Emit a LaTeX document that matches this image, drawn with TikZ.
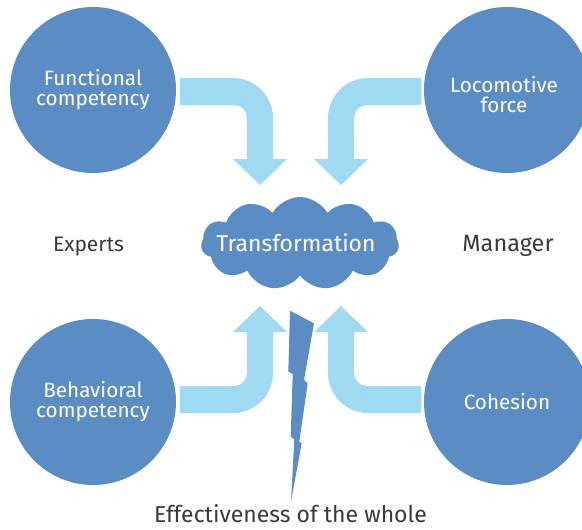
\documentclass[tikz,border=0pt]{standalone}
\usepackage{fontspec}
\setmainfont{Fira Sans}
\usetikzlibrary{shapes.symbols}
\definecolor{circblue}{RGB}{91,141,196}
\definecolor{arrblue}{RGB}{160,217,242}
\definecolor{txtgray}{RGB}{58,58,58}
\newcommand\myBendArrow{%
  \fill[arrblue] (-120.5,-167.5) -- (-67.5,-167.5)
    .. controls (-45.4,-167.5) and (-27.5,-149.6) .. (-27.5,-127.5)
    -- (-27.5,-86.5) -- (-13.5,-86.5) -- (-40.5,-60.5) -- (-67.5,-86.5)
    -- (-53.5,-86.5) -- (-53.5,-127.5)
    .. controls (-53.5,-134.7) and (-59.3,-140.5) .. (-66.5,-140.5)
    -- (-120.5,-140.5) -- cycle;}
\tikzset{
  bigcircle/.style={circle, fill=circblue, minimum size=166pt, inner sep=0pt,
    text=white, align=center, font=\fontsize{20.7}{20}\selectfont},
  circtext/.style={text=white, align=center, inner sep=0pt, font=\fontsize{20.7}{20}\selectfont},
  sidetext/.style={anchor=base, text=txtgray, inner sep=0pt},
}
\begin{document}
\begin{tikzpicture}[x=1pt,y=-1pt]
\useasboundingbox (0,0) rectangle (582,530);
% bent arrows
\begin{scope}[shift={(300.5,245.5)}]\myBendArrow\end{scope}
\begin{scope}[shift={(300.5,245.5)},xscale=-1]\myBendArrow\end{scope}
\begin{scope}[shift={(300.5,245.5)},yscale=-1]\myBendArrow\end{scope}
\begin{scope}[shift={(300.5,245.5)},xscale=-1,yscale=-1]\myBendArrow\end{scope}
% circles
\node[bigcircle] (func) at (93,90) {Functional\\competency};
\node[bigcircle] (loco) at (507,90) {};
\node[circtext] (locotext) at (504,95) {Locomotive\\force};
\node[bigcircle] (beh) at (93,402) {Behavioral\\competency};
\node[bigcircle] (coh) at (507,402) {Cohesion};
% cloud
\node[cloud, cloud puffs=11, cloud puff arc=120, fill=circblue,
  minimum width=198pt, minimum height=93pt, inner sep=0pt] (cloud) at (300,243.5) {};
\node[anchor=base, text=white, font=\fontsize{22.9}{24}\selectfont] (trans) at (296,251.7) {Transformation};
% lightning
\fill[circblue] (290,310.7) -- (314,323.3) -- (304,380) -- (307.7,383.3)
  -- (299.3,441.7) -- (301.7,443.3) -- (291,501.7) -- (294.3,439.3)
  -- (290.7,436.7) -- (292.7,374) -- (288.3,371.7) -- cycle;
% side texts
\node[sidetext, font=\fontsize{21}{24}\selectfont] (experts) at (88.5,251.7) {Experts};
\node[sidetext, font=\fontsize{23.5}{26}\selectfont] (manager) at (508,251.7) {Manager};
\node[sidetext, font=\fontsize{23}{26}\selectfont] (eff) at (290.5,522.5) {Effectiveness of the whole};
\end{tikzpicture}
\end{document}
